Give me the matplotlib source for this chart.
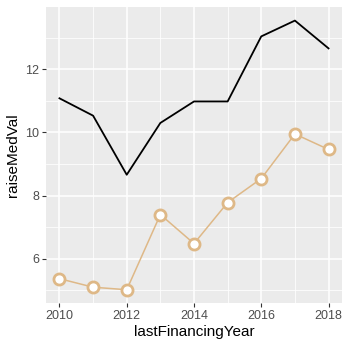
import matplotlib
matplotlib.use("Agg")
import matplotlib.pyplot as plt
from matplotlib.ticker import MultipleLocator

years = [2010, 2011, 2012, 2013, 2014, 2015, 2016, 2017, 2018]
raise_top = [11.08, 10.53, 8.66, 10.30, 10.98, 10.98, 13.04, 13.54, 12.66]
raise_med = [5.37, 5.10, 5.02, 7.40, 6.48, 7.78, 8.54, 9.95, 9.46]

plt.rcParams['font.family'] = ['Liberation Sans', 'DejaVu Sans']

fig = plt.figure(figsize=(3.5, 3.5), dpi=100)
ax = fig.add_axes([46 / 350, 47 / 350, 296 / 350, 296 / 350])
ax.set_facecolor('#EBEBEB')

ax.plot(years, raise_top, color='black', lw=1.3, zorder=3)
ax.plot(years, raise_med, color='#DEB887', lw=1.1, zorder=3,
        marker='o', markersize=8, markerfacecolor='white',
        markeredgecolor='#DEB887', markeredgewidth=2.0)

ax.set_xlim(2009.6, 2018.4)
ax.set_ylim(4.6, 13.97)
ax.xaxis.set_major_locator(MultipleLocator(2))
ax.xaxis.set_minor_locator(MultipleLocator(1))
ax.yaxis.set_major_locator(MultipleLocator(2))
ax.yaxis.set_minor_locator(MultipleLocator(1))

ax.grid(which='major', color='white', lw=1.1)
ax.grid(which='minor', color='white', lw=0.55)
ax.set_axisbelow(True)
for s in ax.spines.values():
    s.set_visible(False)

ax.tick_params(which='major', length=3, width=0.8, color='#333333',
               labelsize=9, labelcolor='#4D4D4D', pad=2)
ax.tick_params(which='minor', length=0)

ax.set_xlabel('lastFinancingYear', fontsize=11, labelpad=2)
ax.set_ylabel('raiseMedVal', fontsize=11, labelpad=4)

plt.savefig('out.png', dpi=100)
